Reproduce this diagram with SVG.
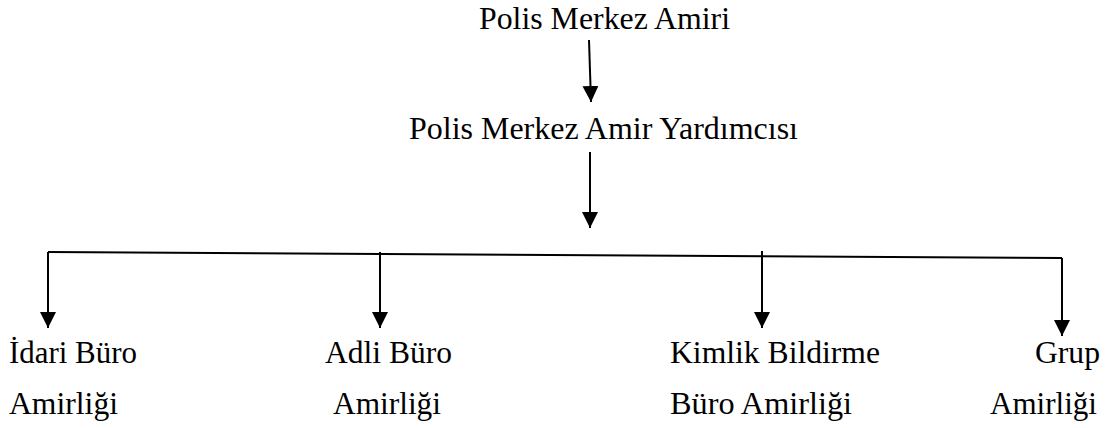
<svg xmlns="http://www.w3.org/2000/svg" width="1117" height="428" viewBox="0 0 1117 428">
<style>
.t{font-family:'Liberation Serif','Times New Roman',Times,serif;font-size:31px;fill:#000}
.c{stroke:#000;stroke-width:2;fill:none}
</style>
<defs>
<marker id="ah" viewBox="0 0 16 16" refX="16" refY="8" markerWidth="16" markerHeight="16" markerUnits="userSpaceOnUse" orient="auto">
<path d="M0,0 L16,8 L0,16 z" fill="#000"/>
</marker>
</defs>
<rect width="1117" height="428" fill="#fff"/>
<g id="connectors">
<path class="c" d="M589,40 L591,102" marker-end="url(#ah)"/>
<path class="c" d="M590,152 L590,228" marker-end="url(#ah)"/>
<path class="c" d="M48,252 L1062,258"/>
<path class="c" d="M48,252 L48,328" marker-end="url(#ah)"/>
<path class="c" d="M380,252 L380,328" marker-end="url(#ah)"/>
<path class="c" d="M762,251 L762,328" marker-end="url(#ah)"/>
<path class="c" d="M1062,258 L1062,336" marker-end="url(#ah)"/>
</g>
<g class="t" font-family="Liberation Serif, serif" font-size="31">
<g id="n-amir"><text class="t" x="479" y="29" textLength="251" lengthAdjust="spacingAndGlyphs">Polis Merkez Amiri</text></g>
<g id="n-yardimci"><text class="t" x="409" y="139" textLength="389" lengthAdjust="spacingAndGlyphs">Polis Merkez Amir Yardımcısı</text></g>
<g id="n-idari">
<text class="t" x="9" y="363" textLength="128" lengthAdjust="spacingAndGlyphs">İdari Büro</text>
<text class="t" x="9" y="414" textLength="109" lengthAdjust="spacingAndGlyphs">Amirliği</text>
</g>
<g id="n-adli">
<text class="t" x="325" y="363" textLength="127" lengthAdjust="spacingAndGlyphs">Adli Büro</text>
<text class="t" x="333" y="414" textLength="108" lengthAdjust="spacingAndGlyphs">Amirliği</text>
</g>
<g id="n-kimlik">
<text class="t" x="670" y="363" textLength="210" lengthAdjust="spacingAndGlyphs">Kimlik Bildirme</text>
<text class="t" x="670" y="414" textLength="182" lengthAdjust="spacingAndGlyphs">Büro Amirliği</text>
</g>
<g id="n-grup">
<text class="t" x="1035" y="363" textLength="65" lengthAdjust="spacingAndGlyphs">Grup</text>
<text class="t" x="990" y="414" textLength="107" lengthAdjust="spacingAndGlyphs">Amirliği</text>
</g>
</g>
</svg>
